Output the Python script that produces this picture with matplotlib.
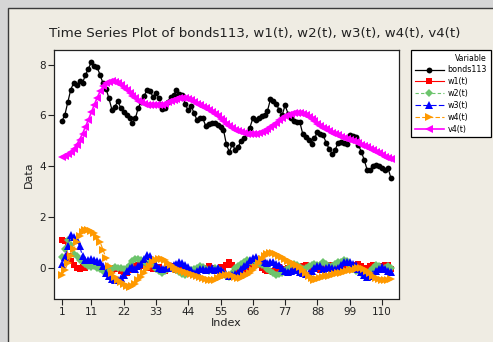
import matplotlib
matplotlib.use("Agg")
import matplotlib.pyplot as plt
from matplotlib.patches import Rectangle
import numpy as np

bonds113 = [5.78, 6.03, 6.53, 7.02, 7.29, 7.19, 7.36, 7.29, 7.59, 7.85,
            8.09, 7.94, 7.89, 7.59, 7.26, 7.06, 6.67, 6.23, 6.34, 6.56,
            6.31, 6.14, 6.03, 5.88, 5.72, 5.88, 6.31, 6.53, 6.77, 7.02,
            6.97, 6.73, 6.90, 6.67, 6.27, 6.31, 6.53, 6.73, 6.80, 7.00,
            6.86, 6.80, 6.44, 6.20, 6.36, 6.10, 5.81, 5.88, 5.88, 5.57,
            5.65, 5.70, 5.70, 5.61, 5.55, 5.44, 4.86, 4.56, 4.86, 4.65, 4.76,
            4.99, 5.09, 5.30, 5.52, 5.88, 5.81, 5.88, 5.97, 6.01, 6.18,
            6.63, 6.55, 6.47, 6.20, 6.01, 6.40, 6.07, 5.88, 5.78, 5.74,
            5.74, 5.28, 5.13, 5.05, 4.89, 5.09, 5.35, 5.28, 5.22, 4.91,
            4.69, 4.49, 4.62, 4.91, 4.95, 4.92, 4.89, 5.22, 5.18, 5.13,
            4.82, 4.56, 4.23, 3.83, 3.86, 3.99, 4.03, 3.99, 3.94, 3.83,
            3.94, 3.55]

w1 = [1.10, 1.05, 0.45, 0.25, 0.12, 0.00, -0.05, 0.02, 0.00, 0.05,
      0.10, 0.15, 0.08, 0.02, -0.05, -0.10, -0.15, -0.10, 0.00, -0.05,
      -0.12, -0.18, -0.20, -0.10, -0.05, 0.05, 0.10, 0.15, 0.08, 0.00,
      0.05, -0.05, 0.00, 0.02, -0.08, -0.15, -0.05, 0.05, 0.00, -0.08,
      0.02, 0.05, -0.05, -0.12, -0.20, -0.10, -0.05, 0.00, -0.08, -0.02,
      0.05, 0.00, -0.10, -0.05, 0.02, -0.05, 0.10, 0.21, 0.10, 0.00,
      -0.08, -0.05, -0.15, -0.10, 0.02, 0.05, 0.15, 0.12, 0.00, -0.10,
      -0.15, -0.12, -0.16, -0.05, 0.02, -0.05, -0.10, 0.00, 0.05, 0.10,
      0.02, -0.08, 0.05, 0.12, 0.05, 0.00, 0.08, 0.00, -0.08, -0.02,
      0.05, 0.10, 0.12, 0.00, -0.08, -0.05, 0.02, 0.08, 0.05, -0.02,
      0.10, 0.15, 0.05, -0.05, 0.00, 0.08, 0.12, 0.05, -0.05, 0.05,
      0.10, 0.12, -0.05]

w2 = [0.42, 0.75, 1.07, 0.90, 0.55, 0.45, 0.30, 0.20, 0.15, 0.08,
      0.03, 0.05, 0.00, -0.05, -0.12, -0.20, -0.15, -0.05, 0.01, 0.00,
      -0.03, -0.07, 0.00, 0.12, 0.25, 0.32, 0.34, 0.30, 0.20, 0.15,
      0.20, 0.10, -0.05, -0.15, -0.20, -0.12, -0.05, -0.02, -0.05, -0.10,
      -0.18, -0.25, -0.30, -0.20, -0.10, -0.05, 0.00, 0.05, 0.02, -0.05,
      -0.12, -0.08, 0.00, -0.05, -0.15, -0.25, -0.35, -0.38, -0.20, 0.00,
      0.05, 0.15, 0.22, 0.30, 0.25, 0.18, 0.12, 0.15, 0.10, 0.05,
      -0.05, -0.15, -0.22, -0.30, -0.25, -0.20, -0.10, 0.00, 0.10, 0.15,
      0.12, 0.02, -0.05, -0.02, 0.05, 0.12, 0.15, 0.10, 0.12, 0.20,
      0.15, 0.05, 0.08, 0.15, 0.20, 0.22, 0.28, 0.25, 0.10, -0.05,
      -0.15, -0.10, -0.20, -0.30, -0.32, -0.15, 0.00, 0.10, 0.05, -0.05,
      0.00, 0.05, 0.00]

w3 = [0.15, 0.40, 0.85, 1.30, 1.20, 1.10, 0.85, 0.45, 0.30, 0.28,
      0.32, 0.30, 0.25, 0.22, 0.05, -0.20, -0.35, -0.45, -0.50, -0.48,
      -0.42, -0.30, -0.15, -0.02, 0.02, -0.05, 0.05, 0.15, 0.32, 0.48,
      0.45, 0.30, 0.12, 0.00, -0.05, 0.02, 0.00, 0.05, 0.10, 0.15,
      0.20, 0.18, 0.10, 0.02, -0.10, -0.20, -0.15, -0.05, -0.05, -0.08,
      -0.05, 0.00, -0.08, -0.02, -0.10, -0.18, -0.25, -0.32, -0.30, -0.25,
      -0.20, -0.05, 0.05, 0.15, 0.28, 0.38, 0.43, 0.35, 0.30, 0.20,
      0.18, 0.22, 0.20, 0.15, 0.09, -0.02, -0.12, -0.18, -0.15, -0.05,
      -0.10, -0.18, -0.22, -0.25, -0.20, -0.12, -0.02, 0.08, 0.05, -0.05,
      -0.02, 0.01, 0.00, -0.05, -0.02, 0.10, 0.20, 0.22, 0.22, 0.15,
      0.09, -0.05, -0.18, -0.30, -0.38, -0.35, -0.25, -0.15, -0.05, 0.01,
      -0.05, -0.12, -0.18]

w4 = [-0.28, -0.10, 0.18, 0.45, 0.72, 1.00, 1.24, 1.40, 1.48, 1.49,
      1.44, 1.36, 1.20, 1.00, 0.70, 0.36, 0.05, -0.22, -0.38, -0.50,
      -0.58, -0.65, -0.72, -0.76, -0.74, -0.65, -0.51, -0.36, -0.22, -0.05,
      0.08, 0.20, 0.29, 0.34, 0.33, 0.28, 0.19, 0.10, 0.04, -0.04,
      -0.10, -0.14, -0.17, -0.20, -0.24, -0.29, -0.33, -0.37, -0.42, -0.46,
      -0.49, -0.50, -0.48, -0.42, -0.36, -0.32, -0.30, -0.29, -0.31, -0.36,
      -0.40, -0.40, -0.35, -0.28, -0.20, -0.08, 0.04, 0.18, 0.32, 0.44,
      0.52, 0.56, 0.57, 0.52, 0.45, 0.40, 0.33, 0.27, 0.21, 0.16,
      0.10, 0.02, -0.10, -0.22, -0.33, -0.42, -0.48, -0.47, -0.43, -0.38,
      -0.35, -0.32, -0.29, -0.26, -0.23, -0.20, -0.18, -0.14, -0.10, -0.08,
      -0.04, -0.01, 0.00, -0.06, -0.12, -0.22, -0.32, -0.40, -0.47, -0.51,
      -0.50, -0.48, -0.45]

v4 = [4.36, 4.40, 4.46, 4.55, 4.68, 4.85, 5.05, 5.28, 5.55, 5.83,
      6.12, 6.42, 6.70, 6.95, 7.15, 7.27, 7.33, 7.35, 7.33, 7.28,
      7.20, 7.10, 7.00, 6.88, 6.77, 6.67, 6.58, 6.51, 6.46, 6.43,
      6.41, 6.40, 6.40, 6.41, 6.43, 6.47, 6.51, 6.56, 6.61, 6.65,
      6.68, 6.69, 6.68, 6.64, 6.59, 6.53, 6.47, 6.41, 6.35, 6.28,
      6.21, 6.13, 6.05, 5.96, 5.87, 5.77, 5.67, 5.58, 5.50, 5.42,
      5.37, 5.33, 5.30, 5.28, 5.27, 5.27, 5.28, 5.30, 5.33, 5.38,
      5.45, 5.53, 5.62, 5.72, 5.81, 5.89, 5.96, 6.02, 6.06, 6.09,
      6.10, 6.09, 6.05, 6.00, 5.93, 5.85, 5.77, 5.68, 5.60, 5.52,
      5.45, 5.38, 5.32, 5.26, 5.21, 5.16, 5.12, 5.08, 5.04, 5.00,
      4.95, 4.90, 4.85, 4.80, 4.74, 4.68, 4.62, 4.56, 4.50, 4.44,
      4.38, 4.32, 4.27]

x_ticks = [1, 11, 22, 33, 44, 55, 66, 77, 88, 99, 110]
y_ticks = [0, 2, 4, 6, 8]
title = "Time Series Plot of bonds113, w1(t), w2(t), w3(t), w4(t), v4(t)"

W, H = 493, 342
fig = plt.figure(figsize=(W / 100, H / 100), dpi=100)
fig.patch.set_facecolor("#D6D6D6")
bg = Rectangle((8 / W, -0.05), 1.1, (H - 8) / H + 0.05,
               transform=fig.transFigure, facecolor="#EFECE3",
               edgecolor="#3A3A3A", linewidth=1.0, zorder=-10)
fig.add_artist(bg)

ax = fig.add_axes([54 / W, (H - 298.5) / H, 345 / W, 248.5 / H])
ax.set_zorder(1)
ax.set_facecolor("white")

idx = np.arange(1, len(bonds113) + 1)

series = [
    ("bonds113", bonds113, dict(color="black", marker="o", ms=4.2, lw=0.9, ls="-")),
    ("w1(t)", w1, dict(color="#FF0000", marker="s", ms=4.4, lw=0.8, ls="-")),
    ("w2(t)", w2, dict(color="#6CC46C", marker="D", ms=4.2, lw=0.8, ls=(0, (3, 2)))),
    ("w3(t)", w3, dict(color="#0000FF", marker="^", ms=5.6, lw=0.8, ls=(0, (5, 2)))),
    ("w4(t)", w4, dict(color="#FF9900", marker=">", ms=5.6, lw=0.8, ls=(0, (4, 2)))),
    ("v4(t)", v4, dict(color="#FF00FF", marker="<", ms=5.6, lw=1.2, ls="-")),
]
for name, vals, st in series:
    ax.plot(idx[:len(vals)], vals, label=name, color=st["color"], marker=st["marker"],
            markersize=st["ms"], linewidth=st["lw"], linestyle=st["ls"],
            markeredgewidth=0, clip_on=True)

ax.set_xlim(-1.72, 115.8)
ax.set_ylim(-1.22, 8.58)
ax.set_xticks(x_ticks)
ax.set_yticks(y_ticks)
ax.tick_params(direction="out", length=4, width=0.8, labelsize=7.5, colors="#222222", pad=2)
for s in ax.spines.values():
    s.set_color("#222222")
    s.set_linewidth(0.9)

ax.set_xlabel("Index", fontsize=8, color="#222222", labelpad=1)
ax.set_ylabel("Data", fontsize=8, color="#222222", labelpad=4)
fig.text(255 / W, 1 - 34 / H, title, ha="center", va="center",
         fontsize=9.6, color="#222222")

leg = ax.legend(loc="upper left", bbox_to_anchor=(411 / W, 1 - 50 / H),
                bbox_transform=fig.transFigure, title="Variable",
                fontsize=5.8, title_fontsize=5.6, frameon=True, fancybox=False,
                edgecolor="black", facecolor="white", framealpha=1,
                handlelength=3.6, handletextpad=0.5, borderpad=0.45,
                labelspacing=0.35, borderaxespad=0, markerscale=1.0)
leg.get_frame().set_linewidth(0.9)
leg._legend_box.align = "right"

fig.savefig("out.png", dpi=100, facecolor=fig.get_facecolor())
